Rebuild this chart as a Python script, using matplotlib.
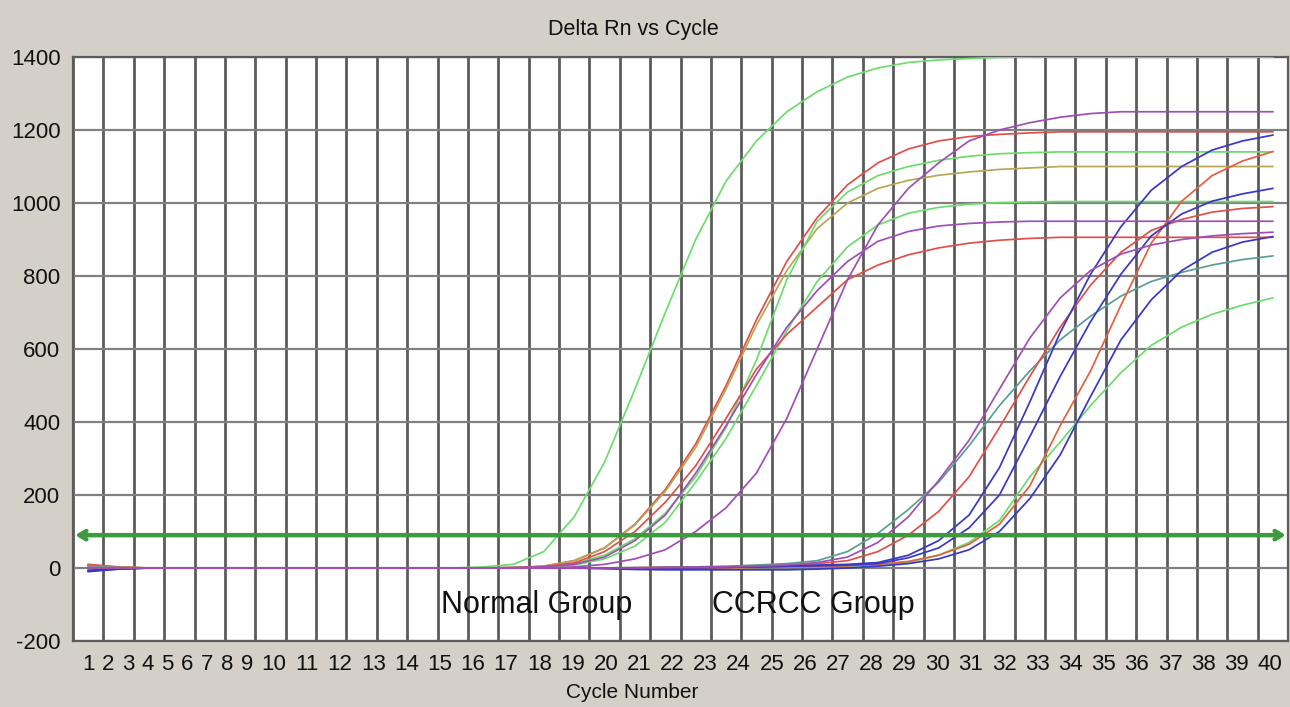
"""Delta Rn vs Cycle - amplification plot, Normal vs CCRCC group."""
import matplotlib
matplotlib.use("Agg")
import matplotlib.pyplot as plt
import numpy as np

plt.rcParams["font.family"] = ["Liberation Sans", "DejaVu Sans"]
plt.rcParams["axes.unicode_minus"] = False

BG = "#d4d0c8"
GREEN = "#6ddc6d"
RED = "#e0504a"
ORANGE_RED = "#e2603e"
PURPLE = "#a04fb4"
OLIVE = "#b8a656"
BLUE = "#3838c4"
TEAL = "#5a9e94"
THR_COLOR = "#3d9a3d"

cycles = list(range(1, 41))
cycle_labels = [str(c) for c in cycles]
threshold = 90

# ---- Normal group (values per cycle 1..40)
normal_green_1 = [5, 2, 0, 0, 0, 0, 0, 0, 0, 0, 0, 0, 0, 3, 10, 45, 140, 290, 490, 700,
                  900, 1060, 1170, 1250, 1305, 1345, 1370, 1385, 1392, 1396, 1399, 1400,
                  1400, 1400, 1400, 1400, 1400, 1400, 1400, 1400]
normal_red_1 = [10, 3, 0, 0, 0, 0, 0, 0, 0, 0, 0, 0, 0, 0, 1, 5, 20, 55, 120, 215,
                340, 500, 680, 840, 960, 1050, 1110, 1148, 1170, 1182, 1188, 1192,
                1195, 1195, 1195, 1195, 1195, 1195, 1195, 1195]
normal_olive = [3, 1, 0, 0, 0, 0, 0, 0, 0, 0, 0, 0, 0, 0, 1, 5, 20, 55, 118, 210,
                330, 490, 665, 815, 930, 1000, 1040, 1062, 1076, 1085, 1092, 1096,
                1100, 1100, 1100, 1100, 1100, 1100, 1100, 1100]
normal_green_2 = [5, 2, 0, 0, 0, 0, 0, 0, 0, 0, 0, 0, 0, 0, 1, 3, 12, 35, 80, 150,
                  250, 385, 570, 790, 950, 1030, 1075, 1100, 1117, 1128, 1135, 1138,
                  1140, 1140, 1140, 1140, 1140, 1140, 1140, 1140]
normal_green_3 = [4, 1, 0, 0, 0, 0, 0, 0, 0, 0, 0, 0, 0, 0, 0, 2, 8, 25, 60, 125,
                  235, 355, 500, 650, 785, 880, 940, 972, 988, 997, 1001, 1003,
                  1004, 1004, 1004, 1004, 1004, 1004, 1004, 1004]
normal_purple_1 = [2, 1, 0, 0, 0, 0, 0, 0, 0, 0, 0, 0, 0, 0, 1, 3, 10, 30, 75, 145,
                   260, 390, 530, 660, 760, 840, 895, 922, 937, 944, 948, 950,
                   950, 950, 950, 950, 950, 950, 950, 950]
normal_red_2 = [8, 2, 0, 0, 0, 0, 0, 0, 0, 0, 0, 0, 0, 0, 1, 4, 14, 45, 100, 180,
                280, 410, 545, 640, 715, 790, 830, 858, 877, 890, 898, 903,
                906, 906, 906, 906, 906, 906, 906, 906]
normal_purple_2 = [0, 0, 0, 0, 0, 0, 0, 0, 0, 0, 0, 0, 0, 0, 0, 0, 3, 10, 25, 50,
                   100, 165, 260, 410, 600, 790, 940, 1040, 1110, 1170, 1200, 1220,
                   1235, 1245, 1250, 1250, 1250, 1250, 1250, 1250]

# ---- CCRCC group
ccrcc_purple = [0, 0, 0, 0, 0, 0, 0, 0, 0, 0, 0, 0, 0, 0, 0, 0, 0, 0, 0, 1,
                2, 3, 5, 8, 15, 30, 70, 140, 240, 350, 490, 630,
                740, 815, 860, 885, 900, 910, 916, 920]
ccrcc_teal = [0, 0, 0, 0, 0, 0, 0, 0, 0, 0, 0, 0, 0, 0, 0, 0, 0, 0, 1, 2,
              3, 5, 8, 12, 20, 45, 95, 160, 235, 335, 445, 540,
              625, 690, 745, 785, 810, 830, 845, 855]
ccrcc_red_1 = [6, 1, 0, 0, 0, 0, 0, 0, 0, 0, 0, 0, 0, 0, 0, 0, 0, 0, 1, 2,
               2, 3, 5, 8, 12, 20, 45, 90, 155, 250, 385, 525,
               660, 775, 865, 925, 955, 975, 985, 990]
ccrcc_blue_1 = [-10, -3, 0, 0, 0, 0, 0, 0, 0, 0, 0, 0, 0, 0, 0, 0, 0, 0, 0, 1,
                1, 2, 4, 5, 8, 10, 15, 35, 75, 145, 275, 455,
                645, 805, 935, 1035, 1100, 1145, 1170, 1186]
ccrcc_blue_2 = [-6, -2, 0, 0, 0, 0, 0, 0, 0, 0, 0, 0, 0, 0, 0, 0, 0, 0, 0, 0,
                1, 2, 3, 5, 6, 8, 12, 28, 55, 110, 200, 360,
                525, 675, 805, 910, 970, 1005, 1025, 1040]
ccrcc_red_2 = [0, 0, 0, 0, 0, 0, 0, 0, 0, 0, 0, 0, 0, 0, 0, 0, 0, 0, 0, 0,
               0, 0, 2, 3, 5, 6, 10, 18, 35, 65, 120, 225,
               390, 540, 720, 890, 1005, 1075, 1115, 1141]
ccrcc_blue_3 = [-8, -3, 0, 0, 0, 0, 0, 0, 0, 0, 0, 0, 0, 0, 0, 0, 0, -2, -4, -5,
                -5, -5, -5, -5, -3, 0, 5, 12, 25, 50, 100, 190,
                310, 470, 625, 735, 815, 865, 893, 908]
ccrcc_green = [4, 1, 0, 0, 0, 0, 0, 0, 0, 0, 0, 0, 0, 0, 0, 0, 0, 0, 0, 0,
               0, 0, 2, 3, 4, 5, 8, 15, 35, 70, 130, 250,
               345, 445, 535, 610, 660, 695, 720, 740]

curves = [
    (normal_green_1, GREEN), (normal_red_1, RED), (normal_olive, OLIVE),
    (normal_green_2, GREEN), (normal_green_3, GREEN), (normal_red_2, RED),
    (ccrcc_teal, TEAL), (ccrcc_red_1, RED), (ccrcc_green, GREEN),
    (ccrcc_red_2, ORANGE_RED), (ccrcc_blue_1, BLUE), (ccrcc_blue_2, BLUE),
    (ccrcc_blue_3, BLUE), (ccrcc_purple, PURPLE),
    (normal_purple_1, PURPLE), (normal_purple_2, PURPLE),
]

W, H = 1290, 707
fig = plt.figure(figsize=(W / 100, H / 100), dpi=100, facecolor=BG)
ax = fig.add_axes([73 / W, 1 - 641 / H, 1215 / W, (641 - 57) / H])
ax.set_facecolor("white")

for vals, col in curves:
    ax.plot(cycles, vals, color=col, lw=1.25, zorder=3)

# threshold with arrow heads at both ends
ax.annotate("", xy=(0.57, threshold), xytext=(40.43, threshold),
            arrowprops=dict(arrowstyle="<->,head_length=0.5,head_width=0.3",
                            color=THR_COLOR, lw=3.2, shrinkA=0, shrinkB=0),
            zorder=4)

ax.set_xlim(0.5, 40.5)
ax.set_ylim(-200, 1400)
ax.set_xticks([])
ax.set_xticks(np.arange(0.5, 41, 1), minor=True)
ax.set_yticks(range(-200, 1401, 200))
ax.set_axisbelow(True)
ax.grid(which="minor", axis="x", color="#5c5c5c", lw=2.0)
ax.grid(which="major", axis="y", color="#808080", lw=1.6)
ax.tick_params(which="both", length=0)
ax.tick_params(axis="y", labelsize=16, pad=9, labelcolor="#111111")
for s in ax.spines.values():
    s.set_color("#5c5c5c")
    s.set_linewidth(1.6)

# cycle labels packed like the instrument software prints them
digit_w, gap = 13.3, 6.6
x = 88.0
prev = None
for lab in cycle_labels:
    if prev is not None:
        x += (len(prev) + len(lab)) * digit_w / 2 + gap
    fig.text(x / W, 1 - 665 / H, lab, ha="center", va="center", fontsize=16,
             color="#111111")
    prev = lab

fig.text(633 / W, 1 - 30 / H, "Delta Rn vs Cycle", ha="center", va="center",
         fontsize=15.5, color="#111111")
fig.text(632 / W, 1 - 692 / H, "Cycle Number", ha="center", va="center",
         fontsize=15, color="#111111")

ax.text(12.6, -100, "Normal Group", ha="left", va="center", fontsize=22,
        color="#111111", zorder=5)
ax.text(21.55, -100, "CCRCC Group", ha="left", va="center", fontsize=22,
        color="#111111", zorder=5)

fig.savefig("out.png", dpi=100, facecolor=BG)
